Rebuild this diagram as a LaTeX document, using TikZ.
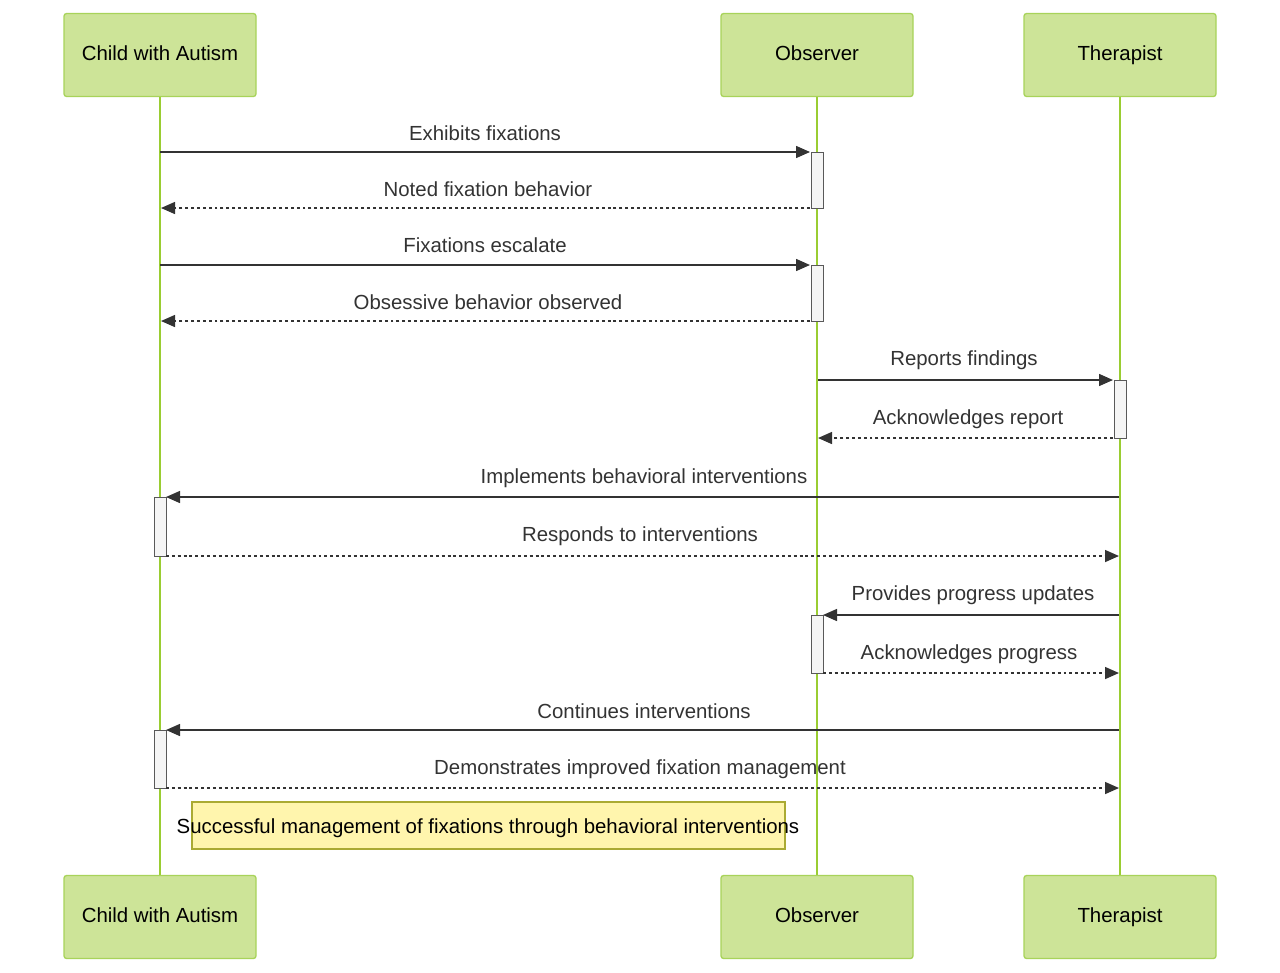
\documentclass[tikz,border=0pt]{standalone}
\usepackage{fontspec}
\setmainfont{Liberation Sans}
\usetikzlibrary{arrows.meta}
\definecolor{actfill}{HTML}{CDE498}
\definecolor{actline}{HTML}{A8D35A}
\definecolor{life}{HTML}{9ACD32}
\definecolor{msg}{HTML}{333333}
\definecolor{notefill}{HTML}{FFF5AD}
\definecolor{noteline}{HTML}{AAAA33}
\begin{document}
\begin{tikzpicture}[x=0.75pt,y=-0.75pt,
  actor/.style={draw=actline,fill=actfill,rounded corners=2pt,line width=1pt,minimum width=144pt,minimum height=62.25pt,font=\fontsize{15.3}{17}\selectfont,inner sep=0pt,text height=11pt,text depth=3pt},
  lifeline/.style={draw=life,line width=1.8pt},
  activ/.style={draw=gray!70!black,fill=gray!8,line width=0.6pt},
  sync/.style={draw=msg,line width=1.1pt,-{Triangle[length=10.5pt,width=9pt]}},
  reply/.style={sync,dash pattern=on 2.2pt off 2.2pt},
  lbl/.style={font=\fontsize{15.3}{17}\selectfont,text=msg,inner sep=0pt,text height=11pt,text depth=3pt}]
\useasboundingbox (0,0) rectangle (1280,972);
\foreach \n/\x in {c/160,o/817,t/1120}{
  \coordinate (\n top) at (\x,96);
  \coordinate (\n bot) at (\x,875);
  \draw[lifeline] (\n top) -- (\n bot);
}
% activations
\draw[activ] (811,152) rectangle (823,208);
\draw[activ] (811,265) rectangle (823,321);
\draw[activ] (1114,380) rectangle (1126,438);
\draw[activ] (154,497) rectangle (166,556);
\draw[activ] (811,615) rectangle (823,673);
\draw[activ] (154,730) rectangle (166,788);
% actors
\node[actor] (a1) at (160,55) {Child with Autism};
\node[actor] (a2) at (817,55) {Observer};
\node[actor] (a3) at (1120,55) {Therapist};
\node[actor] (b1) at (160,917) {Child with Autism};
\node[actor] (b2) at (817,917) {Observer};
\node[actor] (b3) at (1120,917) {Therapist};
% message endpoints
\coordinate (m1a) at (160,152); \coordinate (m1b) at (810,152);
\coordinate (m2a) at (810,208); \coordinate (m2b) at (161,208);
\coordinate (m3a) at (160,265); \coordinate (m3b) at (810,265);
\coordinate (m4a) at (810,321); \coordinate (m4b) at (161,321);
\coordinate (m5a) at (818,380); \coordinate (m5b) at (1113,380);
\coordinate (m6a) at (1113,438); \coordinate (m6b) at (818,438);
\coordinate (m7a) at (1119,497); \coordinate (m7b) at (166,497);
\coordinate (m8a) at (166,556); \coordinate (m8b) at (1119,556);
\coordinate (m9a) at (1119,615); \coordinate (m9b) at (823,615);
\coordinate (m10a) at (823,673); \coordinate (m10b) at (1119,673);
\coordinate (m11a) at (1119,730); \coordinate (m11b) at (166,730);
\coordinate (m12a) at (166,788); \coordinate (m12b) at (1119,788);
\draw[sync] (m1a) -- (m1b);
\draw[reply] (m2a) -- (m2b);
\draw[sync] (m3a) -- (m3b);
\draw[reply] (m4a) -- (m4b);
\draw[sync] (m5a) -- (m5b);
\draw[reply] (m6a) -- (m6b);
\draw[sync] (m7a) -- (m7b);
\draw[reply] (m8a) -- (m8b);
\draw[sync] (m9a) -- (m9b);
\draw[reply] (m10a) -- (m10b);
\draw[sync] (m11a) -- (m11b);
\draw[reply] (m12a) -- (m12b);
\node[lbl] (l1) at (485,135) {Exhibits fixations};
\node[lbl] (l2) at (488,191) {Noted fixation behavior};
\node[lbl] (l3) at (485,247) {Fixations escalate};
\node[lbl] (l4) at (488,304) {Obsessive behavior observed};
\node[lbl] (l5) at (964,360) {Reports findings};
\node[lbl] (l6) at (968,419) {Acknowledges report};
\node[lbl] (l7) at (644,478) {Implements behavioral interventions};
\node[lbl] (l8) at (640,536) {Responds to interventions};
\node[lbl] (l9) at (973,595) {Provides progress updates};
\node[lbl] (l10) at (969,654) {Acknowledges progress};
\node[lbl] (l11) at (644,713) {Continues interventions};
\node[lbl] (l12) at (640,769) {Demonstrates improved fixation management};
% note
\draw[draw=noteline,fill=notefill,line width=0.8pt] (192,802) rectangle (785,849);
\node[lbl,text=black] (note) at (488,828) {Successful management of fixations through behavioral interventions};
\end{tikzpicture}
\end{document}
